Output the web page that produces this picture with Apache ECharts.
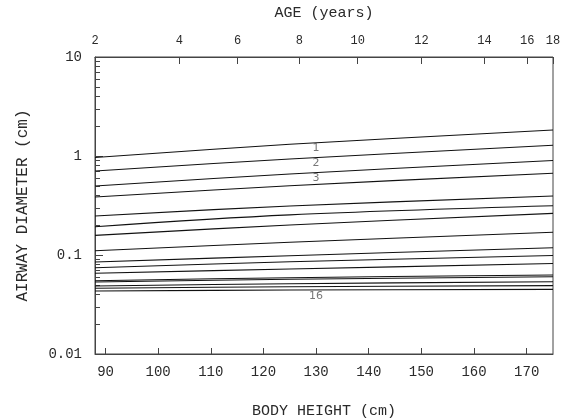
<!DOCTYPE html>
<html>
<head>
<meta charset="utf-8">
<script src="https://cdn.jsdelivr.net/npm/echarts@6/dist/echarts.min.js"></script>
<style>
html,body{margin:0;padding:0;background:#fff;}
#chart{width:570px;height:418px;}
</style>
</head>
<body>
<div id="chart"></div>
<script>
// Body heights (cm) at which the curves were read
var heights = [88, 125, 175];
// Airway diameter (cm) per generation, read at the heights above
var gen1  = [0.966, 1.313, 1.830];
var gen2  = [0.706, 0.933, 1.283];
var gen3  = [0.498, 0.658, 0.901];
var gen4  = [0.385, 0.501, 0.669];
var gen5  = [0.248, 0.313, 0.394];
var gen6  = [0.193, 0.254, 0.314];
var gen7  = [0.158, 0.201, 0.263];
var gen8  = [0.1105, 0.1344, 0.1696];
var gen9  = [0.0850, 0.0984, 0.1185];
var gen10 = [0.0744, 0.0855, 0.0988];
var gen11 = [0.0653, 0.0722, 0.0820];
var gen12 = [0.0550, 0.0590, 0.0628];
var gen13 = [0.0534, 0.0568, 0.0602];
var gen14 = [0.0486, 0.0513, 0.0537];
var gen15 = [0.0461, 0.0478, 0.0490];
var gen16 = [0.0433, 0.0443, 0.0450];
var generations = [gen1,gen2,gen3,gen4,gen5,gen6,gen7,gen8,gen9,gen10,gen11,gen12,gen13,gen14,gen15,gen16];

// Bottom axis tick labels (body height, cm)
var heightTicks = [90, 100, 110, 120, 130, 140, 150, 160, 170];
// Top axis: age (years) and the body heights where they fall
var ageLabels  = [2, 4, 6, 8, 10, 12, 14, 16, 18];
var ageHeights = [88, 104, 115.1, 126.8, 137.9, 150, 162, 170.1, 175];
// Y axis ticks
var yMajor = [0.01, 0.1, 1, 10];
var yMinor = [0.02,0.03,0.04,0.05,0.06,0.07,0.08,0.09,0.2,0.3,0.4,0.5,0.6,0.7,0.8,0.9,2,3,4,5,6,7,8,9];
// Curve annotation labels
var annoText    = ['1', '2', '3', '16'];
var annoHeights = [130, 130, 130, 130];
var annoValues  = [1.197, 0.844, 0.604, 0.0385];

var FONT = 'Liberation Mono';
var AX = '#444';
var TXT = '#2a2a2a';

var chart = echarts.init(document.getElementById('chart'), null, {renderer: 'canvas'});

var series = generations.map(function (g, i) {
  return {
    type: 'line',
    name: 'G' + (i + 1),
    xAxisIndex: 0, yAxisIndex: 0,
    data: heights.map(function (h, j) { return [h, g[j]]; }),
    showSymbol: false,
    smooth: 0.35,
    lineStyle: {color: '#111', width: 1.1},
    silent: true,
    z: 3
  };
});
series.push({
  type: 'scatter',
  xAxisIndex: 0, yAxisIndex: 0,
  symbolSize: 0,
  data: annoText.map(function (t, i) { return {name: t, value: [annoHeights[i], annoValues[i]]}; }),
  label: {show: true, position: 'inside', formatter: '{b}', color: '#555', fontFamily: 'DejaVu Sans', fontSize: 11},
  silent: true,
  z: 4
});

var option = {
  animation: false,
  backgroundColor: '#fff',
  grid: {left: 95, right: 17, top: 57, bottom: 64, outerBoundsMode: 'none', containLabel: false,
         show: true, borderColor: AX, borderWidth: 1, backgroundColor: 'transparent'},
  xAxis: [{
    type: 'value', position: 'bottom', min: 88, max: 175,
    name: 'BODY HEIGHT (cm)', nameLocation: 'middle', nameGap: 50,
    nameTextStyle: {fontFamily: FONT, fontSize: 15, color: TXT},
    axisLine: {show: true, lineStyle: {color: AX}},
    axisTick: {show: true, inside: true, length: 6, customValues: heightTicks, lineStyle: {color: AX}},
    axisLabel: {customValues: heightTicks, margin: 11, fontFamily: FONT, fontSize: 14, color: TXT},
    splitLine: {show: false}
  }, {
    type: 'value', position: 'top', min: 88, max: 175,
    name: 'AGE (years)', nameLocation: 'middle', nameGap: 36,
    nameTextStyle: {fontFamily: FONT, fontSize: 15, color: TXT},
    axisLine: {show: true, lineStyle: {color: AX}},
    axisTick: {show: true, inside: true, length: 7, customValues: ageHeights, lineStyle: {color: AX}},
    axisLabel: {customValues: ageHeights, margin: 10, fontFamily: FONT, fontSize: 12, color: TXT,
      formatter: function (v) { var i = ageHeights.indexOf(v); return i >= 0 ? String(ageLabels[i]) : ''; }},
    splitLine: {show: false}
  }],
  yAxis: [{
    type: 'log', logBase: 10, min: 0.01, max: 10, position: 'left',
    name: 'AIRWAY DIAMETER (cm)', nameLocation: 'middle', nameGap: 64, nameRotate: 90,
    nameTextStyle: {fontFamily: FONT, fontSize: 16, color: TXT},
    axisLine: {show: true, lineStyle: {color: AX}},
    axisTick: {show: true, inside: true, length: 8, customValues: yMajor, lineStyle: {color: AX}},
    axisLabel: {customValues: yMajor, margin: 13, fontFamily: FONT, fontSize: 14, color: TXT,
      padding: [10, 0, 0, 0],
      formatter: function (v) { return String(+v.toPrecision(3)); }},
    splitLine: {show: false}
  }, {
    type: 'log', logBase: 10, min: 0.01, max: 10, position: 'left',
    axisLine: {show: false},
    axisTick: {show: true, inside: true, length: 5, customValues: yMinor, lineStyle: {color: AX}},
    axisLabel: {show: false},
    splitLine: {show: false}
  }],
  series: series
};
chart.setOption(option);
</script>
</body>
</html>
